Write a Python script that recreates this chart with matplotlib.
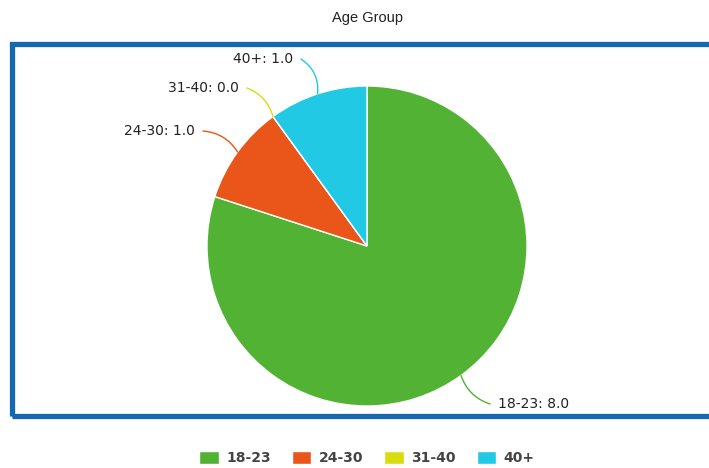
import numpy as np
import matplotlib.pyplot as plt
from matplotlib.patches import Rectangle

groups = ['18-23', '24-30', '31-40', '40+']
counts = [8.0, 1.0, 0.0, 1.0]
colors = ['#52b233', '#ea5619', '#d9dc10', '#22c9e4']

W, H = 709, 468

fig = plt.figure(figsize=(W / 100, H / 100), dpi=100)
ax = fig.add_axes([0, 0, 1, 1])

cx, cy, r = 367, H - 246, 160

# chart frame
ax.add_patch(Rectangle((12, H - 416), 720, 372, fill=False,
                       edgecolor='#1567b0', linewidth=3.8, zorder=0))

ax.text(cx, H - 18, 'Age Group', ha='center', va='center',
        family='Liberation Sans', fontsize=10.5, color='#222222')

wedges, _ = ax.pie(counts, colors=colors, startangle=90, counterclock=False,
                   center=(cx, cy), radius=r, frame=True,
                   wedgeprops=dict(edgecolor='white', linewidth=1))
ax.set_xlim(0, W)
ax.set_ylim(0, H)
ax.set_aspect('equal')
ax.axis('off')

# label positions (text anchor) and curve bend per slice
label_pos = [(498, H - 404), (195, H - 131), (239, H - 88), (293, H - 59)]
bends = [-0.25, -0.25, -0.25, -0.3]

total = sum(counts)
start = 90.0
for i, (g, v) in enumerate(zip(groups, counts)):
    sweep = 360.0 * v / total
    mid = np.deg2rad(start - sweep / 2)
    start -= sweep
    px, py = cx + r * np.cos(mid), cy + r * np.sin(mid)
    tx, ty = label_pos[i]
    ha = 'left' if tx > cx else 'right'
    off = -8 if ha == 'left' else 8
    ax.annotate('', xy=(px, py), xytext=(tx + off, ty),
                arrowprops=dict(arrowstyle='-', color=colors[i], lw=1,
                                shrinkA=0, shrinkB=0,
                                connectionstyle='arc3,rad=%s' % bends[i]))
    ax.text(tx, ty, '%s: %.1f' % (g, v), ha=ha, va='center',
            fontsize=10, color='#222222')

fig.legend(wedges, groups, loc='center', bbox_to_anchor=(cx / W, 1 - 458 / H),
           ncol=4, frameon=False, handlelength=1.4, handleheight=1.1,
           columnspacing=1.5, handletextpad=0.55,
           labelcolor='#444444', prop=dict(size=10, weight='bold'))

fig.savefig('out.png', dpi=100)
